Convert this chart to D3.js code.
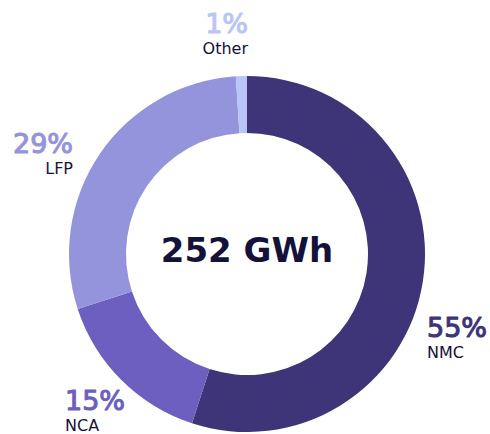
<!DOCTYPE html>
<html>
<head>
<meta charset="utf-8">
<script src="https://cdn.jsdelivr.net/npm/d3@7"></script>
<style>
  html, body { margin: 0; padding: 0; background: #fff; }
  svg { display: block; }
</style>
</head>
<body>
<svg id="chart" width="490" height="434"></svg>
<script>
// Battery chemistry shares of total capacity
const chemistries = ["NMC", "NCA", "LFP", "Other"];
const shares = [55, 15, 29, 1];
const colors = ["#3d3578", "#6d5fbf", "#9494dc", "#b9c5f7"];
const totalLabel = "252 GWh";

// label placement: [x, baseline of percentage, anchor]
const labelPos = {
  NMC:   [427, 337, "start"],
  NCA:   [65, 410, "start"],
  LFP:   [73, 153, "end"],
  Other: [248, 33, "end"]
};

const svg = d3.select("#chart");
const cx = 247, cy = 254, outerR = 178, innerR = 121;
const font = "'DejaVu Sans', Verdana, sans-serif";

const data = chemistries.map((c, i) => ({ name: c, value: shares[i], color: colors[i] }));

const pie = d3.pie().value(d => d.value).sort(null);
const arc = d3.arc().innerRadius(innerR).outerRadius(outerR);

const g = svg.append("g").attr("transform", `translate(${cx},${cy})`);
g.selectAll("path")
  .data(pie(data))
  .join("path")
  .attr("d", arc)
  .attr("fill", d => d.data.color);

// total in the hole
g.append("text")
  .attr("x", 0)
  .attr("y", 8)
  .attr("text-anchor", "middle")
  .attr("font-family", font)
  .attr("font-weight", 700)
  .attr("font-size", 34)
  .attr("fill", "#14123a")
  .text(totalLabel);

const labels = svg.selectAll("g.lbl")
  .data(data)
  .join("g")
  .attr("class", "lbl");

// percentages: regular face thickened with a thin outline (semi-bold look)
labels.append("text")
  .attr("x", d => labelPos[d.name][0])
  .attr("y", d => labelPos[d.name][1])
  .attr("text-anchor", d => labelPos[d.name][2])
  .attr("font-family", font)
  .attr("font-weight", 400)
  .attr("font-size", 27)
  .attr("fill", d => d.color)
  .attr("stroke", d => d.color)
  .attr("stroke-width", 1.1)
  .attr("stroke-linejoin", "round")
  .text(d => d.value + "%");

labels.append("text")
  .attr("x", d => labelPos[d.name][0])
  .attr("y", d => labelPos[d.name][1] + 21)
  .attr("text-anchor", d => labelPos[d.name][2])
  .attr("font-family", font)
  .attr("font-weight", 400)
  .attr("font-size", 16)
  .attr("fill", "#14123a")
  .text(d => d.name);
</script>
</body>
</html>
